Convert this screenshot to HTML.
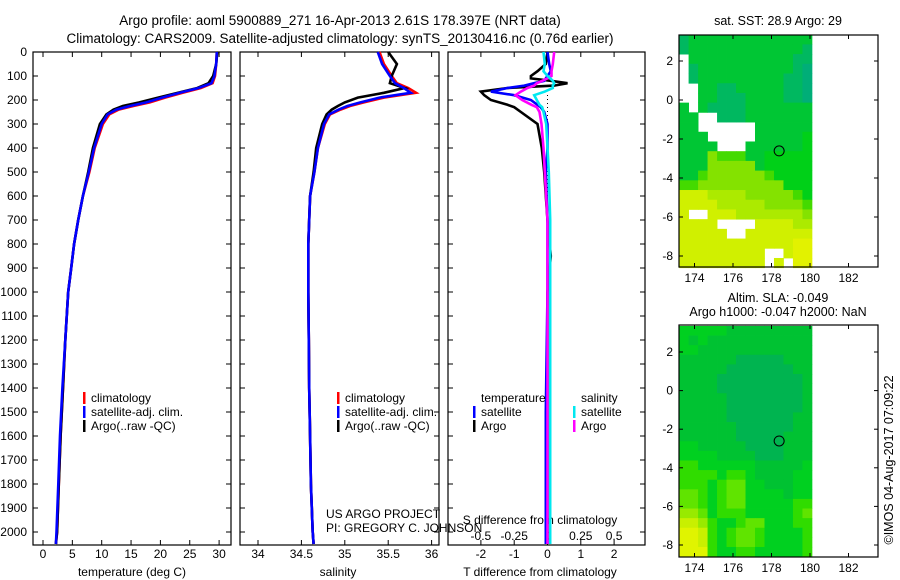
<!DOCTYPE html>
<html><head><meta charset="utf-8"><style>
html,body{margin:0;padding:0;background:#fff;}
svg{display:block;font-family:"Liberation Sans",Arial,sans-serif;}
text{fill:#000;}
</style></head><body>
<svg id="fig" width="900" height="580" viewBox="0 0 900 580" xmlns="http://www.w3.org/2000/svg">
<text x="340" y="25" font-size="13.5" text-anchor="middle">Argo profile: aoml 5900889_271 16-Apr-2013 2.61S 178.397E (NRT data)</text>
<text x="340" y="43" font-size="13.5" text-anchor="middle">Climatology: CARS2009. Satellite-adjusted climatology: synTS_20130416.nc (0.76d earlier)</text>
<text x="778" y="25" font-size="12.5" text-anchor="middle">sat. SST: 28.9 Argo: 29</text>
<text x="778" y="302" font-size="12.5" text-anchor="middle">Altim. SLA: -0.049</text>
<text x="778" y="316" font-size="12.5" text-anchor="middle">Argo h1000: -0.047 h2000: NaN</text>
<text x="0" y="0" font-size="12.5" text-anchor="middle" transform="translate(893,460) rotate(-90)">©IMOS 04-Aug-2017 07:09:22</text>
<g id="g"></g>
</svg>
<script>
// ---- data ----
const depthTicks=[0,100,200,300,400,500,600,700,800,900,1000,1100,1200,1300,1400,1500,1600,1700,1800,1900,2000];
const tempTicks=[0,5,10,15,20,25,30];
const salTicks=[34,34.5,35,35.5,36];
const tdTicks=[-2,-1,0,1,2];
const sdTicks=[-0.5,-0.25,0,0.25,0.5];
const pDepth=[0,50,100,130,150,170,190,210,225,240,260,300,400,500,600,700,800,900,1000,1200,1400,1600,1800,2000,2050];
const tClim=[29.6,29.5,29.3,28.9,26.9,23.8,20.8,18.2,15.4,12.9,11.3,10.2,8.8,7.9,6.8,6.0,5.3,4.8,4.3,3.8,3.4,3.0,2.7,2.4,2.2];
const tSat=[29.6,29.5,29.2,28.7,26.5,23.3,20.3,17.6,14.8,12.5,11.0,10.0,8.7,7.8,6.8,6.0,5.3,4.8,4.3,3.8,3.3,2.9,2.6,2.3,2.2];
const tArgo=[29.7,29.5,29.0,28.2,26.3,23.0,19.6,16.4,13.6,12.0,10.8,9.7,8.5,7.7,6.8,6.0,5.3,4.8,4.3,3.8,3.4,3.0,2.7,2.4,2.2];
const sClim=[35.40,35.45,35.54,35.60,35.73,35.82,35.45,35.22,35.06,34.95,34.83,34.77,34.69,34.65,34.60,34.59,34.58,34.58,34.58,34.585,34.59,34.60,34.61,34.63,34.64];
const sSat=[35.38,35.43,35.52,35.58,35.68,35.76,35.40,35.18,35.03,34.93,34.82,34.76,34.69,34.65,34.60,34.59,34.58,34.58,34.58,34.585,34.59,34.60,34.61,34.63,34.64];
const sArgo=[35.50,35.60,35.54,35.52,35.69,35.45,35.15,35.00,34.92,34.85,34.79,34.74,34.67,34.64,34.60,34.59,34.58,34.58,34.58,34.585,34.59,34.60,34.61,34.63,34.64];
const dDepth=[0,50,80,100,110,120,130,140,150,165,180,200,220,230,250,300,400,500,700,850,1000,1500,2000,2050];
const dTSat=[0,0.05,0.1,0,-0.05,-0.1,-0.4,-0.7,-1.2,-1.7,-1.0,-0.5,-0.3,-0.2,-0.1,0,0,-0.05,0,0,0,-0.05,-0.05,-0.05];
const dTArgo=[0,-0.05,-0.3,-0.5,-0.5,0.1,0.6,0.2,-1.2,-2.0,-1.9,-1.7,-1.2,-1.0,-0.8,-0.3,-0.17,-0.1,0,0.1,0,0,0,0];
const dSSat=[-0.03,-0.02,-0.03,0,0.02,0.04,0.05,0.04,0.04,-0.02,-0.1,-0.08,-0.06,-0.04,-0.03,-0.01,0,0.01,0.02,0.02,0.02,0.02,0.02,0.02];
const dSArgo=[0.05,0.04,0.03,0.03,0,-0.04,-0.08,-0.1,-0.15,-0.2,-0.24,-0.19,-0.12,-0.08,-0.06,-0.045,-0.03,-0.02,0,0,0,0,0,0];
const mapLonTicks=[174,176,178,180,182];
const mapLatTicks=[2,0,-2,-4,-6,-8];
const floatLon=178.397, floatLat=-2.61;
const sstGrid=[
"12222222222222","12222222222221","w2222222222211","w1222222222210","w1222222222110","ww221122222110",
"ww221112222110","2w211112222222","22ww1112222222","22wwwwww222222","222wwwww222223","2222www2222223",
"22254442233333","22255555233333","22455555543333","44555555555333","77766665555543","77776666655554",
"7ww77766666665","7777wwww777766","77777ww7777777","77777777777788","777777777ww788","777777777w7w88"];
const slaGrid=[
"33333222222222","32322222222222","33222222222222","22222211111222","22222111111122","22221111111112",
"22221111111112","22222111111112","22222111111112","22222111111122","22222211111122","22222211111222",
"33222221111222","33332222111222","44333333222223","44443443222233","44434553322233","55434553333233",
"55434553333344","66534443333345","77643345533344","88743455433334","88743455433334","88843344333334"];
const sstColors=["#00ae78","#00b860","#00c634","#00d018","#44da00","#84e200","#acea00","#d0f000","#e2f200"];
const slaColors=["#00a868","#00b450","#00c232","#00d020","#30dc00","#60e400","#98ea00","#c8f000","#e0f400"];
// ---- drawing ----
const NS="http://www.w3.org/2000/svg";
const G=document.getElementById('g');
function el(tag,attrs,parent){const e=document.createElementNS(NS,tag);for(const k in attrs)e.setAttribute(k,attrs[k]);(parent||G).appendChild(e);return e;}
function txt(x,y,s,size,anchor,parent){const t=el('text',{x:x,y:y,'font-size':size,'text-anchor':anchor||'middle'},parent);t.textContent=s;return t;}
const PT=52,PB=545;
const yD=d=>PT+d*0.24;
function panel(x0,x1,name){
  const g=el('g',{});
  
  
  el('rect',{x:x0,y:PT,width:x1-x0,height:PB-PT,fill:'none',stroke:'#000','stroke-width':1.2},g);
  depthTicks.forEach(d=>{const y=yD(d);el('line',{x1:x0,y1:y,x2:x0+5,y2:y,stroke:'#000'},g);el('line',{x1:x1,y1:y,x2:x1-5,y2:y,stroke:'#000'},g);});
  return g;
}
function series(xs,ys,fx,color,name,parent,w){
  const pts=xs.map((v,i)=>fx(v).toFixed(1)+','+yD(ys[i]).toFixed(1)).join(' ');
  const p=el('polyline',{points:pts,fill:'none',stroke:color,'stroke-width':w||2.6,'stroke-linejoin':'miter'},parent);
  
  
}
function legendEntry(x,y,color,label,parent){
  const g=el('g',{},parent);
  
  
  el('rect',{x:x,y:y-10,width:2.5,height:12,fill:color},g);
  txt(x+8,y,label,12,'start',g);
}
// Panel 1 temperature
const xT=t=>43+t*5.87;
const p1=panel(33,231,'temperature-panel');
depthTicks.forEach(d=>txt(27,yD(d)+4,String(d),12,'end',p1));
tempTicks.forEach(t=>{const x=xT(t);el('line',{x1:x,y1:PT,x2:x,y2:PT+5,stroke:'#000'},p1);el('line',{x1:x,y1:PB,x2:x,y2:PB-5,stroke:'#000'},p1);txt(x,558,String(t),12,'middle',p1);});
txt(132,576,'temperature (deg C)',12,'middle',p1);
series(tClim,pDepth,xT,'#ff0000','temp-climatology-line',p1);
series(tArgo,pDepth,xT,'#000000','temp-argo-line',p1);
series(tSat,pDepth,xT,'#0000ff','temp-satellite-line',p1);
legendEntry(83,402,'#ff0000','climatology',p1);
legendEntry(83,416,'#0000ff','satellite-adj. clim.',p1);
legendEntry(83,430,'#000000','Argo(..raw -QC)',p1);
// Panel 2 salinity
const xS=s=>258+(s-34)*86.8;
const p2=panel(240,439,'salinity-panel');
salTicks.forEach(s=>{const x=xS(s);el('line',{x1:x,y1:PT,x2:x,y2:PT+5,stroke:'#000'},p2);el('line',{x1:x,y1:PB,x2:x,y2:PB-5,stroke:'#000'},p2);txt(x,558,String(s),12,'middle',p2);});
txt(338,576,'salinity',12,'middle',p2);
series(sClim,pDepth,xS,'#ff0000','sal-climatology-line',p2);
series(sArgo,pDepth,xS,'#000000','sal-argo-line',p2);
series(sSat,pDepth,xS,'#0000ff','sal-satellite-line',p2);
legendEntry(337,402,'#ff0000','climatology',p2);
legendEntry(337,416,'#0000ff','satellite-adj. clim.',p2);
legendEntry(337,430,'#000000','Argo(..raw -QC)',p2);
txt(326,518,'US ARGO PROJECT',12,'start');
txt(326,532,'PI: GREGORY C. JOHNSON',12,'start');
// Panel 3 differences
const xTd=v=>547.5+v*33.3;
const xSd=v=>547.5+v*133.2;
const p3=panel(448,645,'difference-panel');
el('line',{x1:547.5,y1:95,x2:547.5,y2:PB,stroke:'#000','stroke-dasharray':'1,3'},p3);
tdTicks.forEach(v=>{const x=xTd(v);el('line',{x1:x,y1:PT,x2:x,y2:PT+5,stroke:'#000'},p3);el('line',{x1:x,y1:PB,x2:x,y2:PB-5,stroke:'#000'},p3);txt(x,558,String(v),12,'middle',p3);});
sdTicks.forEach(v=>txt(xSd(v),540,String(v),12,'middle',p3));
txt(540,524,'S difference from climatology',12,'middle',p3);
txt(540,576,'T difference from climatology',12,'middle',p3);
series(dTArgo,dDepth,xTd,'#000000','tdiff-argo-line',p3);
series(dTSat,dDepth,xTd,'#0000ff','tdiff-satellite-line',p3);
series(dSArgo,dDepth,xSd,'#ff00ff','sdiff-argo-line',p3);
series(dSSat,dDepth,xSd,'#00e8f0','sdiff-satellite-line',p3);
txt(481,402,'temperature',12,'start',p3);
txt(581,402,'salinity',12,'start',p3);
legendEntry(473,416,'#0000ff','satellite',p3);
legendEntry(473,430,'#000000','Argo',p3);
legendEntry(573,416,'#00e8f0','satellite',p3);
legendEntry(573,430,'#ff00ff','Argo',p3);
// Maps
function map(top,bot,lat2y,latm8y,grid,colors,name){
  const g=el('g',{});
  
  
  const L=679,R=878;
  const xL=lon=>733+(lon-176)*19.25;
  const pl=(latm8y-lat2y)/10;
  const yL=lat=>lat2y+(2-lat)*pl;
  const lon0=173.2,lon1=180.1,lat0=3.35,lat1=-8.6;
  const nr=grid.length,nc=grid[0].length;
  const cw=(xL(lon1)-xL(lon0))/nc, chh=(yL(lat1)-yL(lat0))/nr;
  grid.forEach((row,r)=>{for(let c=0;c<nc;c++){const v=row[c];if(v==='w')continue;
    const cell=el('rect',{x:(xL(lon0)+c*cw).toFixed(2),y:(yL(lat0)+r*chh).toFixed(2),width:(cw+0.4).toFixed(2),height:(chh+0.4).toFixed(2),fill:colors[+v]},g);
    
    }});
  el('rect',{x:L,y:top,width:R-L,height:bot-top,fill:'none',stroke:'#000','stroke-width':1.2},g);
  mapLonTicks.forEach(lon=>{const x=xL(lon);el('line',{x1:x,y1:top,x2:x,y2:top+4,stroke:'#000'},g);el('line',{x1:x,y1:bot,x2:x,y2:bot-4,stroke:'#000'},g);txt(x,bot+15,String(lon),12,'middle',g);});
  mapLatTicks.forEach(lat=>{const y=yL(lat);el('line',{x1:L,y1:y,x2:L+4,y2:y,stroke:'#000'},g);el('line',{x1:R,y1:y,x2:R-4,y2:y,stroke:'#000'},g);txt(673,y+4,String(lat),12,'end',g);});
  const c=el('circle',{cx:xL(floatLon),cy:yL(floatLat),r:5,fill:'none',stroke:'#000','stroke-width':1},g);
  
  
}
map(35,267,61,256,sstGrid,sstColors,'sst-map');
map(325,557,352,545,slaGrid,slaColors,'sla-map');
</script>
</body></html>
